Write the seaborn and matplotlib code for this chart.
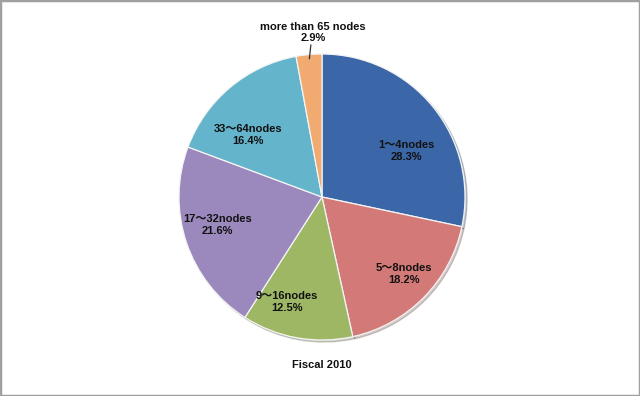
import numpy as np
import matplotlib
matplotlib.use("Agg")
import matplotlib.pyplot as plt
from matplotlib.patches import Rectangle
import seaborn as sns

categories = ["1～4nodes", "5～8nodes", "9～16nodes", "17～32nodes", "33～64nodes", "more than 65 nodes"]
shares = [28.3, 18.2, 12.5, 21.6, 16.4, 2.9]
title = "Fiscal 2010"

sns.set_theme(style="white")
plt.rcParams["font.family"] = ["Liberation Sans", "Noto Sans CJK JP", "DejaVu Sans"]

palette = sns.color_palette(["#3b67a8", "#d37a78", "#9eb765", "#9b88bc", "#64b4cc", "#f1aa70"])

fig = plt.figure(figsize=(6.4, 3.96), dpi=100)
ax = fig.add_axes([0, 0, 1, 1])

cx, cy, R = 322, 396 - 197, 143
wedges, _ = ax.pie(shares, colors=palette, startangle=90, counterclock=False,
                   center=(cx, cy), radius=R,
                   wedgeprops=dict(edgecolor="#f4f4f4", linewidth=0.9),
                   shadow=dict(ox=1.5, oy=-1.5, shade=0.6, alpha=0.25))
ax.set_xlim(0, 640)
ax.set_ylim(0, 396)
ax.set_aspect("equal")
ax.axis("off")

# label anchor offsets in units of the radius (x right, y up)
label_offsets = [(0.59, 0.32), (0.57, -0.54), (-0.245, -0.735), (-0.73, -0.196), (-0.52, 0.435), None]
for w, name, val, off in zip(wedges, categories, shares, label_offsets):
    if off is not None:
        x = cx + off[0] * R
        y = cy + off[1] * R
        ax.text(x, y, f"{name}\n{val:.1f}%", ha="center", va="center",
                fontsize=8, fontweight="bold", color="#111111", linespacing=1.2)
    else:
        mid = np.deg2rad((w.theta1 + w.theta2) / 2)
        x0 = cx + 0.97 * R * np.cos(mid)
        y0 = cy + 0.97 * R * np.sin(mid)
        x1 = x0 + 1.5
        y1 = y0 + 14
        ax.plot([x0, x1], [y0, y1], color="#333333", lw=0.9)
        ax.text(x1 + 2, y1 + 1.5, f"{name}\n{val:.1f}%", ha="center", va="bottom",
                fontsize=8, fontweight="bold", color="#111111", linespacing=1.2)

ax.text(322, 396 - 365, title, ha="center", va="center", fontsize=8,
        fontweight="bold", color="#111111")

fig.patches.append(Rectangle((0, 0), 1, 1, transform=fig.transFigure,
                             fill=False, edgecolor="#a0a0a0", linewidth=2.5))

fig.savefig("out.png", dpi=100)
